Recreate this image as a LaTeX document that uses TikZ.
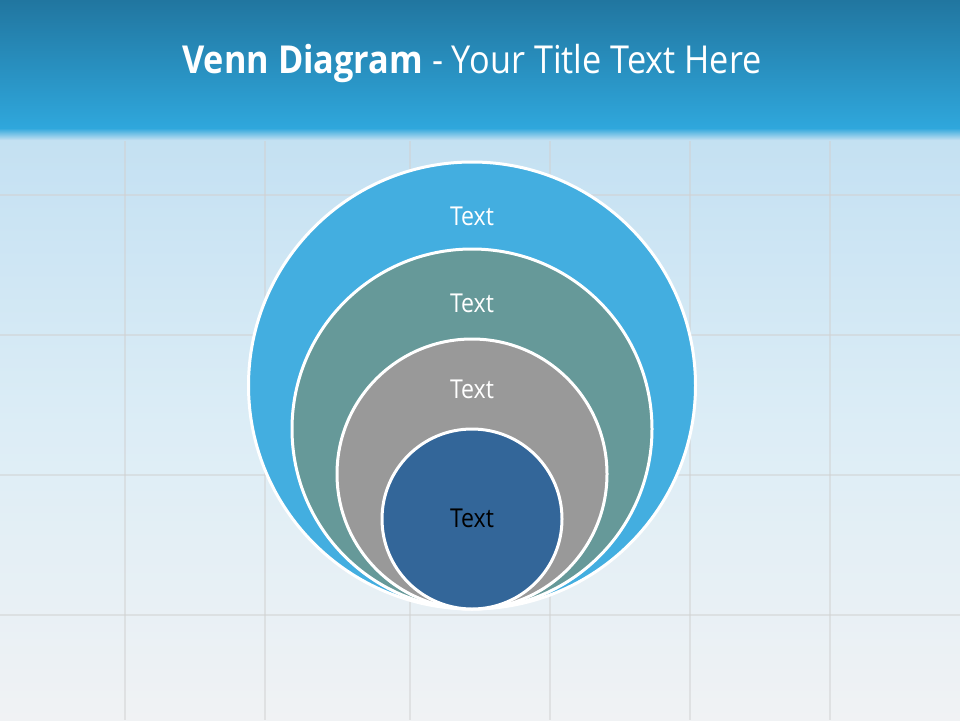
\documentclass[tikz,border=0pt]{standalone}
\usepackage{fontspec}
\setmainfont[FakeStretch=0.89]{Open Sans}
\usetikzlibrary{positioning}

\definecolor{barTop}{HTML}{2176A0}
\definecolor{barBot}{HTML}{2FA7DC}
\definecolor{bgTop}{HTML}{C3E0F2}
\definecolor{bgMid}{HTML}{DCEDF6}
\definecolor{bgBot}{HTML}{F0F2F4}
\definecolor{ringA}{HTML}{43AEE0}
\definecolor{ringB}{HTML}{669999}
\definecolor{ringC}{HTML}{999999}
\definecolor{ringD}{HTML}{336699}

\begin{document}
\begin{tikzpicture}[
  x=1pt, y=-1pt,
  ring/.style={circle, draw=white, line width=3pt, inner sep=0pt},
  lbl/.style={font=\fontsize{26}{28}\selectfont, text=white, inner sep=0pt},
  tile/.style={draw=black!18, line width=2pt, opacity=0.5},
]
\useasboundingbox (0,0) rectangle (960,720);

% background and title bar
\shade[top color=bgTop, bottom color=bgBot, middle color=bgMid] (0,128) rectangle (960,720);
\foreach \y in {195,335,475,615}
  \draw[tile] (0,\y) -- (960,\y);
\foreach \x in {125,265,410,550,690,830}
  \draw[tile] (\x,130) -- (\x,720);
\shade[top color=barBot, bottom color=bgTop] (0,128) rectangle (960,140);
\shade[top color=barTop, bottom color=barBot] (0,0) rectangle (960,128);

\node[font=\fontsize{38.5}{42}\selectfont, text=white, inner sep=0pt] (title) at (472,63)
  {\textbf{Venn Diagram} - Your Title Text Here};

% nested circles, all touching at the bottom
\node[ring, fill=ringA, minimum size=447pt] (outer) at (472,385.5) {};
\node[ring, fill=ringB, minimum size=360pt] (second) at (472,429) {};
\node[ring, fill=ringC, minimum size=270pt] (third) at (472,474) {};
\node[ring, fill=ringD, minimum size=180pt] (inner) at (472,519) {};

\node[lbl] (tA) at (472,216) {Text};
\node[lbl] (tB) at (472,303) {Text};
\node[lbl] (tC) at (472,389) {Text};
\node[lbl, text=black] (tD) at (472,518) {Text};
\end{tikzpicture}
\end{document}
